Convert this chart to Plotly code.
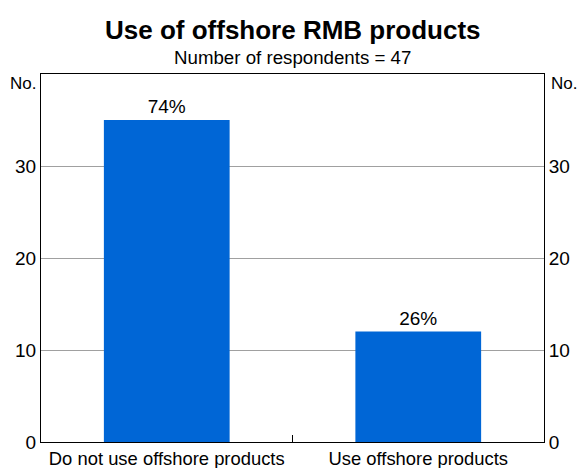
import plotly.graph_objects as go

categories = ["Do not use offshore products", "Use offshore products"]
counts = [35, 12]
shares = ["74%", "26%"]
y_ticks = [0, 10, 20, 30]

FONT = "Liberation Sans, Arial, sans-serif"
FS = 19
PLOT_H = 468 - 74 - 26

fig = go.Figure()
fig.add_trace(go.Bar(
    x=[0, 1], y=counts, text=shares, textposition="outside",
    textfont=dict(size=FS, color="black", family=FONT),
    marker=dict(color="#0066D6", line=dict(width=0)), width=0.5,
    cliponaxis=False, showlegend=False, hoverinfo="skip",
))
fig.add_trace(go.Scatter(x=[0, 1], y=counts, yaxis="y2", mode="markers",
                         marker=dict(opacity=0), showlegend=False, hoverinfo="skip"))

fig.update_layout(
    width=579, height=468,
    margin=dict(l=41, r=35, t=74, b=26),
    paper_bgcolor="white", plot_bgcolor="white",
    font=dict(family=FONT, size=FS, color="black"),
    xaxis=dict(range=[-0.5, 1.5], tickvals=[0, 1], ticktext=categories,
               showgrid=False, zeroline=False, showline=True, linecolor="black",
               linewidth=1, mirror=True, ticks="", ticklen=0,
               tickfont=dict(size=18.4), automargin=False),
    yaxis=dict(range=[0, 40], tickvals=y_ticks, showgrid=True, gridcolor="#A0A0A0",
               gridwidth=1, zeroline=False, showline=True, linecolor="black",
               linewidth=1, ticks="", tickfont=dict(size=FS), automargin=False),
    yaxis2=dict(range=[0, 40], tickvals=y_ticks, overlaying="y", side="right",
                showgrid=False, zeroline=False, showline=True, linecolor="black",
                linewidth=1, ticks="", tickfont=dict(size=FS), automargin=False),
    annotations=[
        dict(text="<b>Use of offshore RMB products</b>", x=0.5, xref="paper",
             y=1, yref="paper", yanchor="middle", yshift=44, showarrow=False,
             font=dict(size=26)),
        dict(text="Number of respondents = 47", x=0.5, xref="paper", y=1,
             yref="paper", yanchor="middle", yshift=17, showarrow=False,
             font=dict(size=18.7)),
        dict(text="No.", x=0, xref="paper", y=1, yref="paper", showarrow=False,
             xanchor="right", yanchor="middle", xshift=-3, yshift=-9,
             font=dict(size=17)),
        dict(text="No.", x=1, xref="paper", y=1, yref="paper", showarrow=False,
             xanchor="left", yanchor="middle", xshift=5, yshift=-9,
             font=dict(size=17)),
    ],
    shapes=[dict(type="line", xref="x", yref="paper", x0=0.5, x1=0.5,
                 y0=0, y1=7 / PLOT_H, line=dict(color="black", width=1))],
)
fig.write_html("out.html", config={"displayModeBar": False},
               post_script="document.body.style.margin='0';document.body.style.overflow='hidden';")
